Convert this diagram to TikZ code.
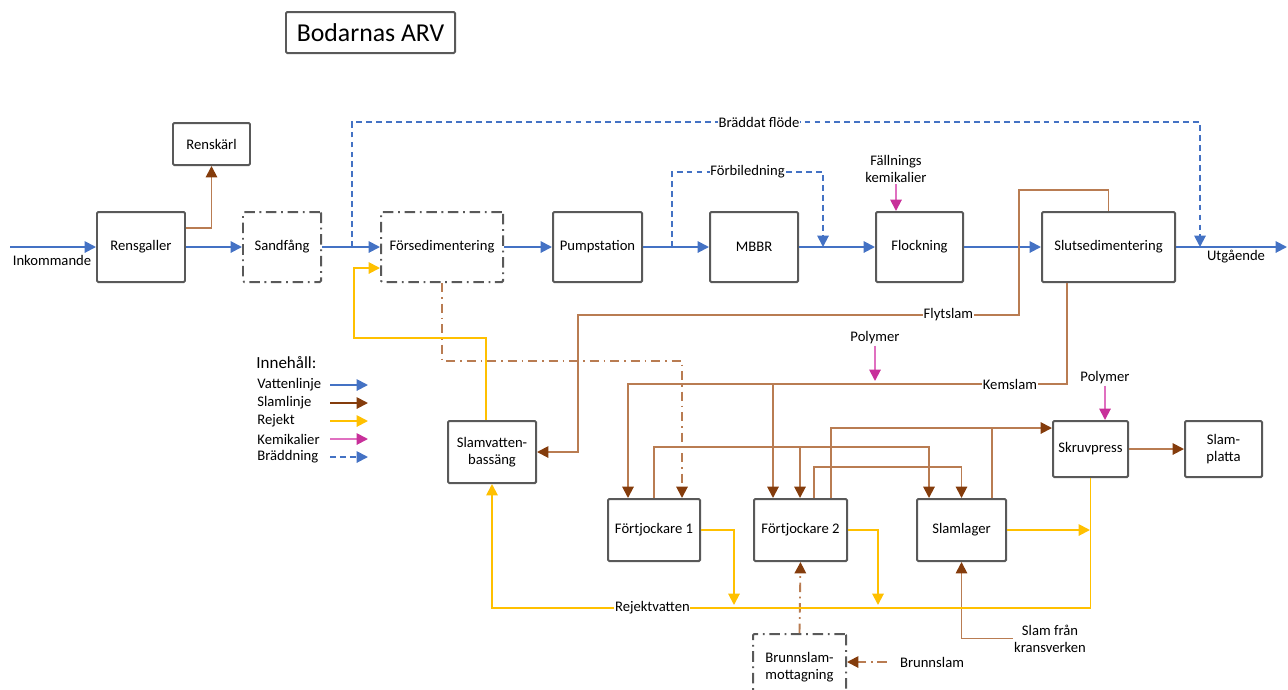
\documentclass[tikz,border=0pt]{standalone}
\usepackage{fontspec}
\setmainfont{Carlito}
\usetikzlibrary{arrows.meta, calc}

\definecolor{waterblue}{HTML}{4472C4}
\definecolor{sludgeline}{HTML}{B97C52}
\definecolor{sludgehead}{HTML}{843C0C}
\definecolor{rejectyellow}{HTML}{FFC000}
\definecolor{chemline}{HTML}{E070C0}
\definecolor{chemhead}{HTML}{C8309A}
\definecolor{boxgray}{HTML}{595959}

\begin{document}
\begin{tikzpicture}[
  x=0.03cm, y=-0.03cm,
  every node/.style = {
    font=\fontsize{12.5}{14.5}\selectfont,
    align=center,
    inner sep=1pt
  },
  wh/.style 2 args = {minimum width=#1*0.03cm, minimum height=#2*0.03cm},
  unit/.style = {draw=boxgray, line width=1.7pt, rounded corners=1pt, fill=white},
  planned/.style = {unit, dash pattern=on 9pt off 4pt on 1.5pt off 4pt},
  lbl/.style = {fill=white, inner sep=0.5pt},
  tip/.style = {-{Triangle[length=3.4mm, width=3.4mm, #1]}},
  water/.style = {draw=waterblue, line width=1.6pt, tip={}},
  overflow/.style = {water, dash pattern=on 5pt off 3.5pt},
  sludge/.style = {draw=sludgeline, line width=1.6pt, tip={color=sludgehead}},
  sludgeplain/.style = {draw=sludgeline, line width=1.6pt},
  sludgedash/.style = {sludge, dash pattern=on 8pt off 4pt on 1.5pt off 4pt},
  reject/.style = {draw=rejectyellow, line width=1.6pt, tip={}},
  chem/.style = {draw=chemline, line width=1.6pt, tip={color=chemhead}}
]
\useasboundingbox (0,0) rectangle (1288,689);
\clip (0,0) rectangle (1288,689);

% Title
\node[unit, wh={169}{41}, font=\fontsize{22}{24}\selectfont] (title) at (370.5,32.5) {Bodarnas ARV};

% Water line (top row)
\node[unit, wh={88}{70}] (rensgaller) at (141,247) {Rensgaller};
\node[unit, wh={77}{42}] (renskarl) at (211.5,144) {Renskärl};
\node[planned, wh={78}{70}] (sandfang) at (282,247) {Sandfång};
\node[planned, wh={122}{70}] (forsed) at (442,247) {Försedimentering};
\node[unit, wh={89}{70}] (pump) at (597.5,247) {Pumpstation};
\node[unit, wh={88}{70}] (mbbr) at (754,247) {MBBR};
\node[unit, wh={87}{70}] (flock) at (919.5,247) {Flockning};
\node[unit, wh={133}{70}] (slutsed) at (1108.5,247) {Slutsedimentering};

% Sludge line
\node[unit, wh={88}{62}] (slamvatten) at (492,452) {Slamvatten-\\bassäng};
\node[unit, wh={92}{62}] (fort1) at (654,530) {Förtjockare 1};
\node[unit, wh={93}{62}] (fort2) at (800.5,530) {Förtjockare 2};
\node[unit, wh={89}{62}] (slamlager) at (961.5,530) {Slamlager};
\node[unit, wh={75}{56}] (skruv) at (1090.5,449) {Skruvpress};
\node[unit, wh={77}{56}] (slamplatta) at (1223.5,449) {Slam-\\platta};
\node[planned, wh={93}{66}] (brunn) at (799.5,667) {Brunnslam-\\mottagning};

% Free labels
\node (inkommande) at (52,260) {Inkommande};
\node (utgaende) at (1236,257) {Utgående};
\node (fallning) at (896,169) {Fällnings\\kemikalier};
\node (polymer) at (875,338) {Polymer};
\node (polymer2) at (1105,378) {Polymer};
\node (brunnlbl) at (932,662) {Brunnslam};
\node (kransverk) at (1050,638.5) {Slam från\\kransverken};

% Junctions
\coordinate (inlet) at (10,247);
\coordinate (outlet) at (1287,247);
\coordinate (bypassA) at (352,247);
\coordinate (bypassB) at (1200,247);
\coordinate (mbbrA) at (672,247);
\coordinate (mbbrB) at (823,247);
\coordinate (kemjoin) at (773,383);
\coordinate (f1join) at (800,448);

% === WATER ===
\draw[water] (inlet) -- (rensgaller);
\draw[water] (rensgaller) -- (sandfang);
\draw[water] (sandfang) -- (forsed);
\draw[water] (forsed) -- (pump);
\draw[water] (pump) -- (mbbr);
\draw[water] (mbbr) -- (flock);
\draw[water] (flock) -- (slutsed);
\draw[water] (slutsed) -- (outlet);

% Overflow and bypass (dashed)
\draw[overflow] (bypassA) -- ++(0,-125) -| node[lbl, pos=0.24] {Bräddat flöde} (bypassB);
\draw[overflow] (mbbrA) -- ++(0,-75) -| node[lbl, pos=0.25] {Förbiledning} (mbbrB);

% Chemicals
\draw[chem] (fallning.south) -- (fallning.south |- flock.north);
\draw[chem] (polymer.south) -- ($(polymer.south |- kemjoin)+(0,-2)$);
\draw[chem] (polymer2.south) -- (polymer2.south |- skruv.north);

% === SLUDGE ===
\draw[sludge] ($(rensgaller.east)+(0,-19)$) -| (renskarl.south);
\draw[sludge] (slutsed.north) -- ++(0,-21) -| ($(slutsed.west)+(-22,68)$)
  -- node[lbl, pos=0.16] {Flytslam} ++(-441,0) |- (slamvatten.east);
\draw[sludge] ($(slutsed.south)+(-41.5,0)$) -- ++(0,101)
  -- node[lbl, pos=0.13] {Kemslam} ++(-439,0) -- ($(fort1.north)+(-26,0)$);
\draw[sludge] (kemjoin) -- (kemjoin |- fort2.north);
\draw[sludge] (fort1.north) -- ++(0,-51) -| ($(slamlager.north)+(-32.5,0)$);
\draw[sludge] (f1join) -- (f1join |- fort2.north);
\draw[sludge] ($(fort2.north)+(13.5,0)$) -- ++(0,-31) -| (slamlager.north);
\draw[sludge] ($(fort2.north)+(30.5,0)$) |- ($(skruv.west)+(0,-21)$);
\draw[sludgeplain] ($(slamlager.north)+(30.5,0)$) -- ++(0,-71);
\draw[sludge] (skruv) -- (slamplatta);
\draw[sludge] (kransverk.west) -| (slamlager.south);
\draw[sludgedash] (forsed.south) -- ++(0,78) -| ($(fort1.north)+(28,0)$);
\draw[sludgedash] (brunn.north) -- (fort2.south);
\draw[sludgedash] ($(brunnlbl.west)+(-12,0)$) -- (brunnlbl.west -| brunn.east);

% === REJECT ===
\draw[reject] ($(slamvatten.north)+(-6,0)$) -- ++(0,-82) -| ($(forsed.west)+(-26,21)$)
  -- ($(forsed.west)+(0,21)$);
\draw[reject] (fort1.east) -| ($(fort1.east)+(33,75)$);
\draw[reject] (fort2.east) -| ($(fort2.east)+(30,75)$);
\draw[reject] (slamlager.east) -- ($(slamlager.east)+(83,0)$);
\draw[reject] (skruv.south) |- node[lbl, pos=0.866] {Rejektvatten}
  ($(slamvatten.south)+(0,124)$) -- (slamvatten.south);

% === LEGEND ===
\coordinate (legx) at (330,0);
\node[anchor=west, font=\fontsize{14.5}{16}\selectfont] (legtitle) at (255,363) {Innehåll:};
\node[anchor=west] (legwater) at (256,385) {Vattenlinje};
\node[anchor=west] (legsludge) at (256,403) {Slamlinje};
\node[anchor=west] (legreject) at (256,421) {Rejekt};
\node[anchor=west] (legchem) at (256,439) {Kemikalier};
\node[anchor=west] (legover) at (256,457) {Bräddning};
\draw[water] (legwater.west -| legx) -- ++(38,0);
\draw[sludge, draw=sludgehead] (legsludge.west -| legx) -- ++(38,0);
\draw[reject] (legreject.west -| legx) -- ++(38,0);
\draw[chem] (legchem.west -| legx) -- ++(38,0);
\draw[overflow] (legover.west -| legx) -- ++(38,0);

\end{tikzpicture}
\end{document}
